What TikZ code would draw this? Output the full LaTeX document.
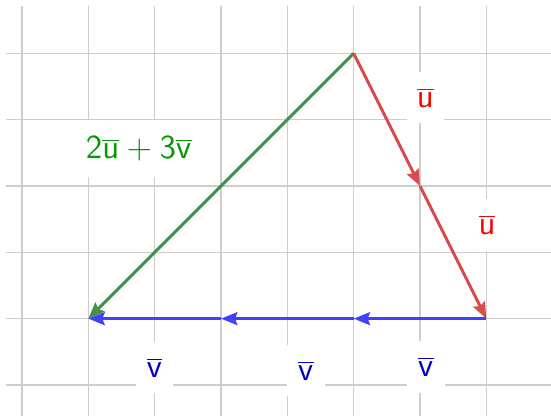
\documentclass[tikz,border=0pt]{standalone}
\usetikzlibrary{arrows.meta}
\definecolor{VecRed}{RGB}{214,77,77}
\definecolor{VecBlue}{RGB}{64,64,255}
\definecolor{VecGreen}{RGB}{72,142,72}
\definecolor{LabelRed}{RGB}{255,0,0}
\definecolor{LabelBlue}{RGB}{0,0,204}
\definecolor{LabelGreen}{RGB}{0,153,0}
\definecolor{GridGray}{RGB}{205,205,205}

\begin{document}
\begin{tikzpicture}[font=\sffamily\fontsize{15}{17}\selectfont,
    vec/.style={line width=1.3pt, -{Stealth[length=7pt,width=5.5pt,inset=1pt]}},
    lbl/.style={fill=white, inner sep=0pt, minimum width=16pt, minimum height=22pt}]
        \useasboundingbox (-0.332,-0.467) rectangle (7.975,5.804);
        \draw[GridGray, line width=0.5pt] (-0.24,-0.467) grid (7.975,5.71);

        \coordinate (top) at (5,5);
        \coordinate (umid) at (6,3);
        \coordinate (right) at (7,1);
        \coordinate (vone) at (5,1);
        \coordinate (vtwo) at (3,1);
        \coordinate (left) at (1,1);

        % labels
        \foreach \x/\y/\n in {6.08/4.33/uup, 7.01/2.41/udown} {
          \node[lbl, text=LabelRed] (\n) at (\x,\y) {$\overline{\mathsf{u}}$};
        }
        \foreach \x/\y/\n in {2.0/0.26/vleft, 4.28/0.22/vmid, 6.09/0.27/vright} {
          \node[lbl, text=LabelBlue] (\n) at (\x,\y) {$\overline{\mathsf{v}}$};
        }
        \node[lbl, text=LabelGreen, inner xsep=6pt, minimum height=24.5pt] (sum) at (1.76,3.56)
          {$\mathsf{2}\overline{\mathsf{u}}+\mathsf{3}\overline{\mathsf{v}}$};

        % vectors
        \draw[vec, VecGreen] (top) -- (left);
        \draw[vec, VecRed] (top) -- (umid);
        \draw[vec, VecRed] (umid) -- (right);
        \foreach \s/\t in {right/vone, vone/vtwo, vtwo/left} {
          \draw[vec, VecBlue] (\s) -- (\t);
        }

      \end{tikzpicture}
\end{document}
